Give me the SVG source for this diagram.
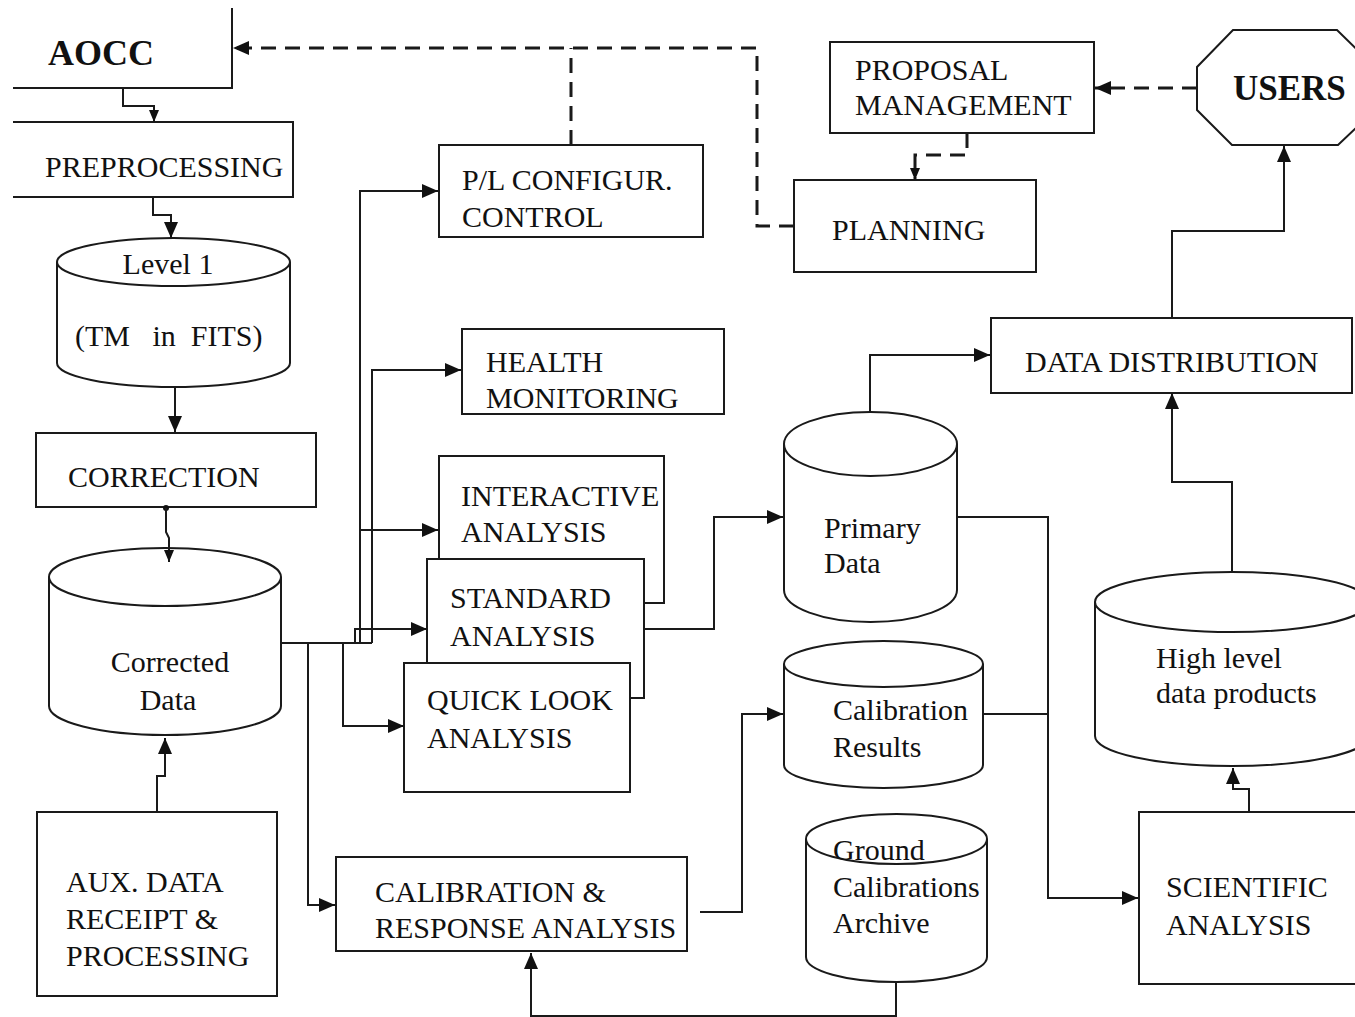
<svg xmlns="http://www.w3.org/2000/svg" width="1355" height="1017" viewBox="0 0 1355 1017">
<defs>
<style>
.bx{fill:#fff;stroke:#1a1a1a;stroke-width:2}
.ln{fill:none;stroke:#1a1a1a;stroke-width:2}
.ds{fill:none;stroke:#1a1a1a;stroke-width:3;stroke-dasharray:15 9}
.t{font-family:"Liberation Serif","Times New Roman",serif;font-size:30px;fill:#111}
.tb{font-family:"Liberation Serif","Times New Roman",serif;font-size:36px;font-weight:bold;fill:#111}
</style>
<marker id="ah" viewBox="0 0 16 14" refX="16" refY="7" markerWidth="16" markerHeight="14" markerUnits="userSpaceOnUse" orient="auto"><path d="M0,0 L16,7 L0,14 z" fill="#111"/></marker>
<marker id="ahs" viewBox="0 0 12 10" refX="12" refY="5" markerWidth="12" markerHeight="10" markerUnits="userSpaceOnUse" orient="auto"><path d="M0,0 L12,5 L0,10 z" fill="#111"/></marker>
</defs>
<rect width="1355" height="1017" fill="#fff"/>

<g id="aocc">
<path class="ln" d="M232,8 V88 H13"/>
<text class="tb" x="48" y="65">AOCC</text>
</g>
<g id="preprocessing">
<path class="ln" d="M13,122 H293 V197 H13"/>
<text class="t" x="45" y="177">PREPROCESSING</text>
</g>
<g id="level1">
<path class="bx" d="M57,262 V363 A116.5,24 0 0 0 290,363 V262"/>
<ellipse class="bx" cx="173.5" cy="262" rx="116.5" ry="24"/>
<text class="t" x="168" y="274" text-anchor="middle">Level 1</text>
<text class="t" x="75" y="346" xml:space="preserve">(TM   in  FITS)</text>
</g>
<g id="correction">
<rect class="bx" x="36" y="433" width="280" height="74"/>
<text class="t" x="68" y="487">CORRECTION</text>
</g>
<g id="corrected-data">
<path class="bx" d="M49,577 V706 A116,29 0 0 0 281,706 V577"/>
<ellipse class="bx" cx="165" cy="577" rx="116" ry="29"/>
<text class="t" x="170" y="672" text-anchor="middle">Corrected</text>
<text class="t" x="168" y="710" text-anchor="middle">Data</text>
</g>
<g id="aux">
<rect class="bx" x="37" y="812" width="240" height="184"/>
<text class="t" x="66" y="892">AUX. DATA</text>
<text class="t" x="66" y="929">RECEIPT &amp;</text>
<text class="t" x="66" y="966">PROCESSING</text>
</g>
<g id="pl-config">
<rect class="bx" x="439" y="145" width="264" height="92"/>
<text class="t" x="462" y="190">P/L CONFIGUR.</text>
<text class="t" x="462" y="227">CONTROL</text>
</g>
<g id="health">
<rect class="bx" x="462" y="329" width="262" height="85"/>
<text class="t" x="486" y="372">HEALTH</text>
<text class="t" x="486" y="408">MONITORING</text>
</g>
<g id="interactive">
<rect class="bx" x="439" y="456" width="225" height="147"/>
<text class="t" x="461" y="506">INTERACTIVE</text>
<text class="t" x="461" y="542">ANALYSIS</text>
</g>
<g id="standard">
<rect class="bx" x="427" y="559" width="217" height="139"/>
<text class="t" x="450" y="608">STANDARD</text>
<text class="t" x="450" y="646">ANALYSIS</text>
</g>
<g id="quicklook">
<rect class="bx" x="404" y="663" width="226" height="129"/>
<text class="t" x="427" y="710">QUICK LOOK</text>
<text class="t" x="427" y="748">ANALYSIS</text>
</g>
<g id="cal-response">
<rect class="bx" x="336" y="857" width="351" height="94"/>
<text class="t" x="375" y="902">CALIBRATION &amp;</text>
<text class="t" x="375" y="938">RESPONSE ANALYSIS</text>
</g>
<g id="proposal">
<rect class="bx" x="830" y="42" width="264" height="91"/>
<text class="t" x="855" y="80">PROPOSAL</text>
<text class="t" x="855" y="115">MANAGEMENT</text>
</g>
<g id="planning">
<rect class="bx" x="794" y="180" width="242" height="92"/>
<text class="t" x="832" y="240">PLANNING</text>
</g>
<g id="users">
<polygon class="bx" points="1233,30 1337,30 1375,67 1375,110 1338,145 1232,145 1197,110 1197,67"/>
<text class="tb" x="1233" y="100" style="font-size:35px">USERS</text>
</g>
<g id="data-distribution">
<rect class="bx" x="991" y="318" width="361" height="75"/>
<text class="t" x="1025" y="372">DATA DISTRIBUTION</text>
</g>
<g id="primary-data">
<path class="bx" d="M784,444 V590 A86.5,32 0 0 0 957,590 V444"/>
<ellipse class="bx" cx="870.5" cy="444" rx="86.5" ry="32"/>
<text class="t" x="824" y="538">Primary</text>
<text class="t" x="824" y="573">Data</text>
</g>
<g id="calibration-results">
<path class="bx" d="M784,664 V765 A99.5,23 0 0 0 983,765 V664"/>
<ellipse class="bx" cx="883.5" cy="664" rx="99.5" ry="23"/>
<text class="t" x="833" y="720">Calibration</text>
<text class="t" x="833" y="757">Results</text>
</g>
<g id="ground-calibrations">
<path class="bx" d="M806,839 V957 A90.5,25 0 0 0 987,957 V839"/>
<ellipse class="bx" cx="896.5" cy="839" rx="90.5" ry="25"/>
<text class="t" x="833" y="860">Ground</text>
<text class="t" x="833" y="897">Calibrations</text>
<text class="t" x="833" y="933">Archive</text>
</g>
<g id="high-level">
<path class="bx" d="M1095,602 V736 A137,30 0 0 0 1369,736 V602"/>
<ellipse class="bx" cx="1232" cy="602" rx="137" ry="30"/>
<text class="t" x="1156" y="668">High level</text>
<text class="t" x="1156" y="703">data products</text>
</g>
<g id="scientific">
<rect class="bx" x="1139" y="812" width="230" height="172"/>
<text class="t" x="1166" y="897">SCIENTIFIC</text>
<text class="t" x="1166" y="935">ANALYSIS</text>
</g>

<g id="connectors">
<path class="ln" d="M123,88 V106 H154 V122" marker-end="url(#ahs)"/>
<path class="ln" d="M153,197 V215 H171 V238" marker-end="url(#ah)"/>
<path class="ln" d="M175,387 V432" marker-end="url(#ah)"/>
<circle cx="166" cy="508" r="3" fill="#111"/>
<path class="ln" d="M166,508 V532 L169,538 V562" marker-end="url(#ahs)"/>
<path class="ln" d="M157,812 V776 H165 V738" marker-end="url(#ah)"/>
<path class="ln" d="M281,643 H372"/>
<path class="ln" d="M308,643 V905 H335" marker-end="url(#ah)"/>
<path class="ln" d="M343,643 V726 H404" marker-end="url(#ah)"/>
<path class="ln" d="M360,643 V191 H438" marker-end="url(#ah)"/>
<path class="ln" d="M360,530 H438" marker-end="url(#ah)"/>
<path class="ln" d="M372,643 V370 H461" marker-end="url(#ah)"/>
<path class="ln" d="M355,643 V629 H427" marker-end="url(#ah)"/>
<path class="ln" d="M645,629 H714 V517 H783" marker-end="url(#ah)"/>
<path class="ln" d="M870,412 V355 H990" marker-end="url(#ah)"/>
<path class="ln" d="M700,912 H742 V714 H783" marker-end="url(#ah)"/>
<path class="ln" d="M896,982 V1016 H531 V953" marker-end="url(#ah)"/>
<path class="ln" d="M957,517 H1048 V898 H1138" marker-end="url(#ah)"/>
<path class="ln" d="M983,714 H1048"/>
<path class="ln" d="M1249,812 V789 H1233 V768" marker-end="url(#ah)"/>
<path class="ln" d="M1232,572 V482 H1172 V393" marker-end="url(#ah)"/>
<path class="ln" d="M1172,318 V231 H1284 V146" marker-end="url(#ah)"/>
<path class="ds" d="M571,145 V48"/>
<path class="ds" d="M794,226 H757 V48 H233" marker-end="url(#ah)"/>
<path class="ds" d="M1197,88 H1095" marker-end="url(#ah)"/>
<path class="ds" d="M967,133 V155 H915 V180" marker-end="url(#ahs)"/>
</g>
</svg>
